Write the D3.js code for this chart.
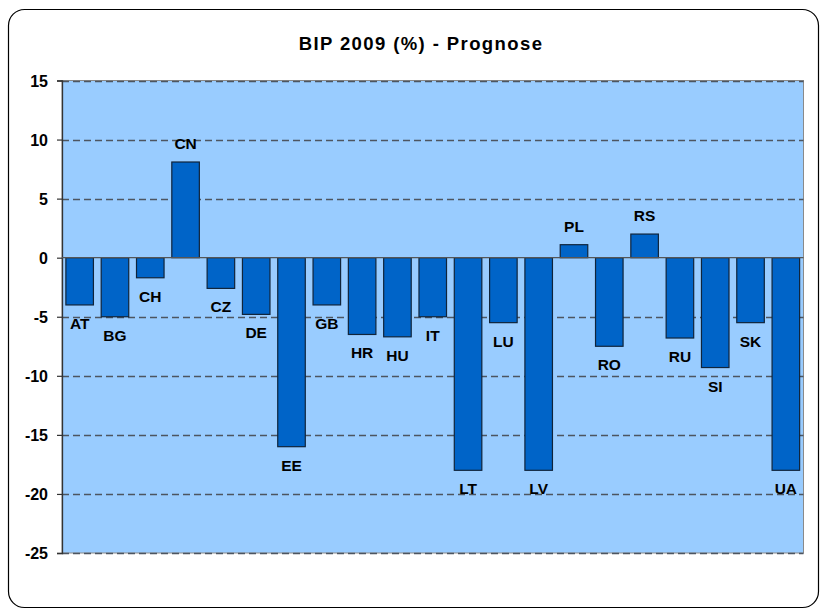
<!DOCTYPE html>
<html>
<head>
<meta charset="utf-8">
<script src="https://cdn.jsdelivr.net/npm/d3@7"></script>
<style>
  html, body { margin: 0; padding: 0; background: #ffffff; }
  svg text { font-family: "Liberation Sans", Arial, sans-serif; font-weight: bold; fill: #000; }
</style>
</head>
<body>
<svg id="chart" width="821" height="610"></svg>
<script>
const title = "BIP 2009 (%) - Prognose";
const categories = ["AT","BG","CH","CN","CZ","DE","EE","GB","HR","HU","IT","LT","LU","LV","PL","RO","RS","RU","SI","SK","UA"];
const values = [-4, -5, -1.7, 8.1, -2.6, -4.8, -16, -4, -6.5, -6.7, -5, -18, -5.5, -18, 1.1, -7.5, 2, -6.8, -9.3, -5.5, -18];
const yTicks = [15, 10, 5, 0, -5, -10, -15, -20, -25];

(function () {
const svg = d3.select("#chart");

// outer rounded frame
svg.append("rect")
  .attr("x", 8.5).attr("y", 9.5).attr("width", 810).attr("height", 598)
  .attr("rx", 16).attr("ry", 16)
  .attr("fill", "#fff").attr("stroke", "#000").attr("stroke-width", 1.2);

const pLeft = 62, pRight = 803.5, pTop = 80.5, pBottom = 553;

const x = d3.scaleBand().domain(categories).range([pLeft, pRight])
  .paddingInner(0.22).paddingOuter(0.11);
const y = d3.scaleLinear().domain([-25, 15]).range([pBottom, pTop]);

// title
svg.append("text")
  .attr("x", 421).attr("y", 50)
  .attr("text-anchor", "middle")
  .style("font-size", "18.5px")
  .style("letter-spacing", "1.4px")
  .text(title);

// plot background
svg.append("rect")
  .attr("x", pLeft).attr("y", pTop).attr("width", pRight - pLeft).attr("height", pBottom - pTop)
  .attr("fill", "#99ccff");

// border lines of plot (gray)
svg.append("rect")
  .attr("x", pLeft).attr("y", pTop).attr("width", pRight - pLeft).attr("height", pBottom - pTop)
  .attr("fill", "none").attr("stroke", "#8a8a8a").attr("stroke-width", 1);

// gridlines
svg.append("g").selectAll("line")
  .data(yTicks.filter(d => d !== 0))
  .join("line")
  .attr("x1", pLeft).attr("x2", pRight)
  .attr("y1", d => Math.round(y(d)) + 0.5).attr("y2", d => Math.round(y(d)) + 0.5)
  .attr("stroke", "#4d5560").attr("stroke-width", 1.3)
  .attr("stroke-dasharray", "7,4");

// y axis
const yAxis = d3.axisLeft(y).tickValues(yTicks).tickSize(5).tickPadding(9).tickFormat(d => String(d));
const gy = svg.append("g").attr("transform", `translate(${pLeft},0)`).call(yAxis);
gy.select(".domain").attr("stroke", "#333").attr("stroke-width", 1.3);
gy.selectAll(".tick line").attr("stroke", "#333").attr("stroke-width", 1.2);
gy.selectAll(".tick text")
  .attr("dy", "0.36em")
  .style("font-size", "16px")
  .style("font-family", "'Liberation Sans', Arial, sans-serif")
  .style("font-weight", "bold")
  .attr("fill", "#000");

// bars
svg.append("g").selectAll("rect")
  .data(categories)
  .join("rect")
  .attr("x", d => x(d))
  .attr("width", x.bandwidth())
  .attr("y", (d, i) => y(Math.max(0, values[i])))
  .attr("height", (d, i) => Math.abs(y(values[i]) - y(0)))
  .attr("fill", "#0064c8")
  .attr("stroke", "#10243a")
  .attr("stroke-width", 1.2);

// zero axis line
svg.append("line")
  .attr("x1", pLeft).attr("x2", pRight)
  .attr("y1", y(0)).attr("y2", y(0))
  .attr("stroke", "#555").attr("stroke-width", 1.3);

// category labels at bar ends
svg.append("g").selectAll("text")
  .data(categories)
  .join("text")
  .attr("x", d => x(d) + x.bandwidth() / 2)
  .attr("y", (d, i) => values[i] >= 0 ? y(values[i]) - 13 : y(values[i]) + 24)
  .attr("text-anchor", "middle")
  .style("font-size", "15.5px")
  .text(d => d);
})();
</script>
</body>
</html>
